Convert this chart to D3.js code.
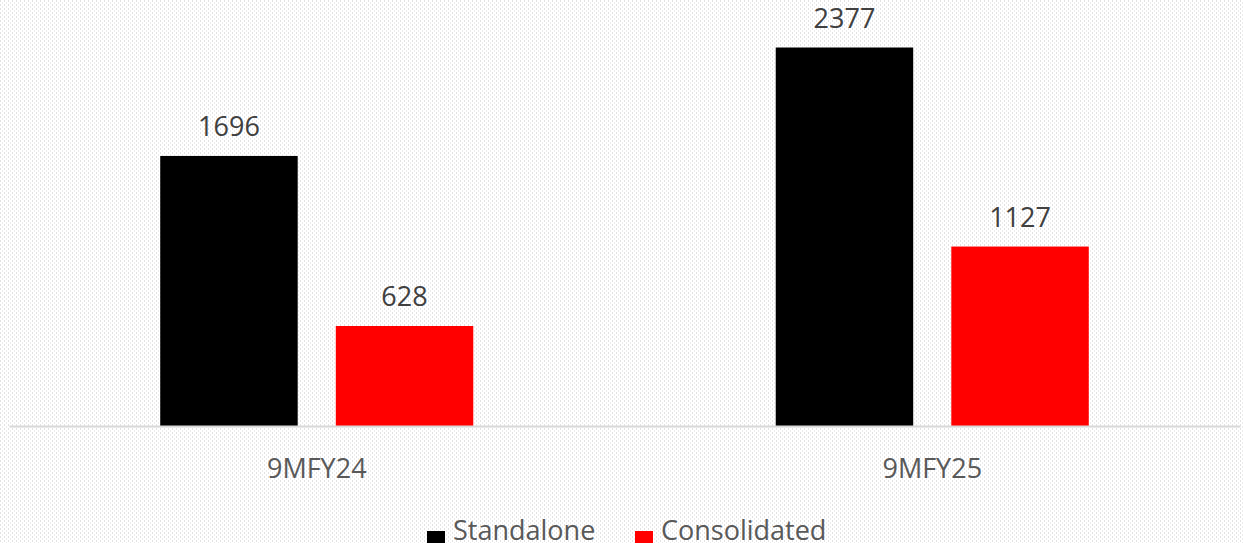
<!DOCTYPE html>
<html>
<head>
<meta charset="utf-8">
<script src="https://cdn.jsdelivr.net/npm/d3@7"></script>
<style>
  html, body { margin: 0; padding: 0; background: #fff; }
  svg { display: block; }
</style>
</head>
<body>
<div id="chart"></div>
<script>
// data
var categories = ["9MFY24", "9MFY25"];
var seriesNames = ["Standalone", "Consolidated"];
var standalone = [1696, 2377];
var consolidated = [628, 1127];
var colors = ["#000000", "#ff0000"];

var width = 1243, height = 543;
var margin = {top: 12, right: 3, bottom: 117, left: 9};
var baseY = height - margin.bottom;

var svg = d3.select("#chart")
  .append("svg")
    .attr("width", width)
    .attr("height", height);

// dotted background like the office pattern fill
var defs = svg.append("defs");
var pat = defs.append("pattern")
    .attr("id", "dots")
    .attr("width", 4)
    .attr("height", 4)
    .attr("patternUnits", "userSpaceOnUse");
pat.append("rect").attr("width", 4).attr("height", 4).attr("fill", "#ffffff");
pat.append("rect").attr("x", 0).attr("y", 0).attr("width", 1).attr("height", 2).attr("fill", "#e2e2e2");
pat.append("rect").attr("x", 2).attr("y", 2).attr("width", 1).attr("height", 2).attr("fill", "#ececec");

svg.append("rect")
  .attr("width", width)
  .attr("height", height)
  .attr("fill", "url(#dots)");

var x0 = d3.scaleBand()
  .domain(categories)
  .range([margin.left, width - margin.right])
  .paddingInner(0.4914)
  .paddingOuter(0.2457);

var x1 = d3.scaleBand()
  .domain(seriesNames)
  .range([0, x0.bandwidth()])
  .paddingInner(0.217);

var y = d3.scaleLinear()
  .domain([0, 2600])
  .range([baseY, baseY - 414]);

var rows = categories.map(function(c, i) {
  return {cat: c, values: [standalone[i], consolidated[i]]};
});

var groups = svg.selectAll(".grp")
  .data(rows)
  .enter()
  .append("g")
    .attr("class", "grp")
    .attr("transform", function(d) { return "translate(" + x0(d.cat) + ",0)"; });

groups.selectAll("rect")
  .data(function(d) { return d.values.map(function(v, j) { return {name: seriesNames[j], v: v, j: j}; }); })
  .enter()
  .append("rect")
    .attr("x", function(d) { return x1(d.name); })
    .attr("y", function(d) { return y(d.v); })
    .attr("width", x1.bandwidth())
    .attr("height", function(d) { return baseY - y(d.v); })
    .attr("fill", function(d) { return colors[d.j]; });

// value labels
groups.selectAll(".val")
  .data(function(d) { return d.values.map(function(v, j) { return {name: seriesNames[j], v: v}; }); })
  .enter()
  .append("text")
    .attr("class", "val")
    .attr("x", function(d) { return x1(d.name) + x1.bandwidth() / 2; })
    .attr("y", function(d) { return y(d.v) - 20; })
    .attr("text-anchor", "middle")
    .attr("font-family", "Open Sans")
    .attr("font-size", "27px")
    .attr("fill", "#404040")
    .text(function(d) { return d.v; });

// baseline axis
var xAxis = d3.axisBottom(x0).tickSize(0).tickPadding(0);
var ax = svg.append("g")
  .attr("transform", "translate(0," + baseY + ")")
  .call(xAxis);
ax.select(".domain").attr("stroke", "#d9d9d9").attr("stroke-width", 2);
ax.selectAll("text")
  .attr("dy", 0)
  .attr("y", 52)
  .attr("font-family", "Open Sans")
  .attr("font-size", "27px")
  .attr("fill", "#595959");

// legend
var legX = [427, 635];
var leg = svg.selectAll(".leg")
  .data(seriesNames)
  .enter()
  .append("g")
    .attr("class", "leg")
    .attr("transform", function(d, i) { return "translate(" + legX[i] + ",531)"; });
leg.append("rect")
  .attr("width", 18)
  .attr("height", 18)
  .attr("fill", function(d, i) { return colors[i]; });
leg.append("text")
  .attr("x", 26)
  .attr("y", 9)
  .attr("font-family", "Open Sans")
  .attr("font-size", "27px")
  .attr("fill", "#595959")
  .text(function(d) { return d; });
</script>
</body>
</html>
